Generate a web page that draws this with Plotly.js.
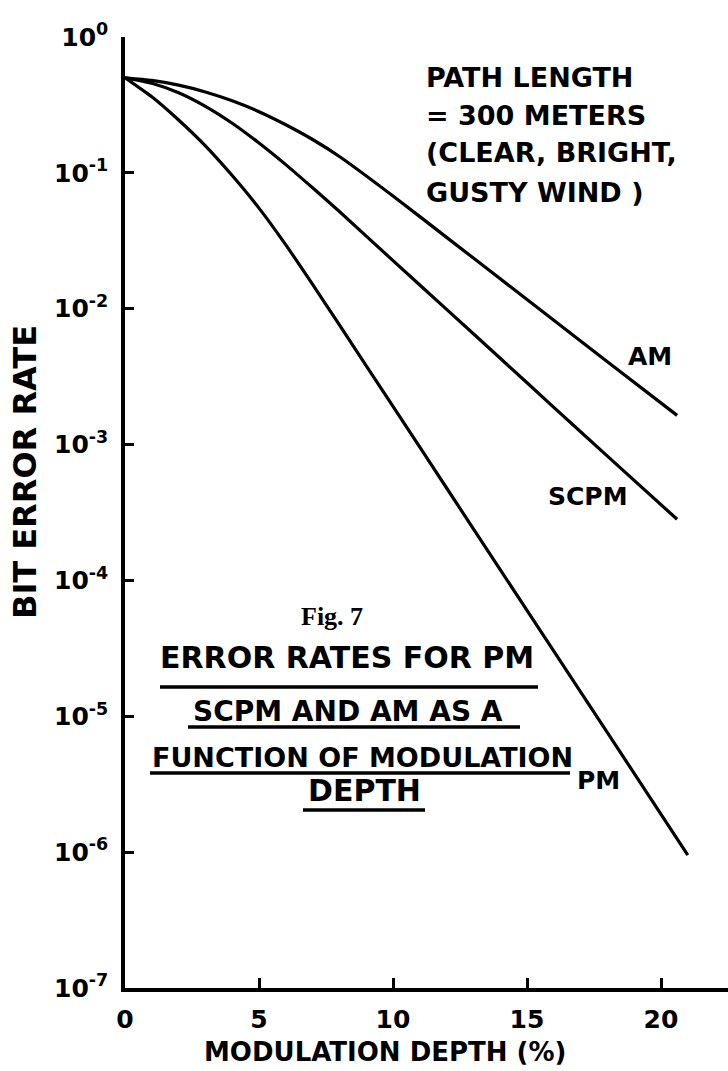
<!DOCTYPE html>
<html><head><meta charset="utf-8">
<script src="https://cdn.plot.ly/plotly-3.0.1.min.js"></script>
<style>html,body{margin:0;padding:0;background:#fff;} #chart{width:728px;height:1071px;}</style>
</head><body><div id="chart"></div>
<script>
// ---- data ----
const depthAM   = [0, 1, 2, 3, 4, 5, 6, 7, 8, 10, 12, 14, 16, 18, 20.6];
const berAM     = [0.501, 0.479, 0.442, 0.394, 0.339, 0.282, 0.226, 0.176, 0.132, 0.0676, 0.0335, 0.0166, 0.00822, 0.00407, 0.00164];
const depthSCPM = [0, 1, 2, 3, 4, 5, 6, 7, 8, 10, 12, 14, 16, 18, 20.6];
const berSCPM   = [0.501, 0.457, 0.389, 0.309, 0.232, 0.166, 0.115, 0.0776, 0.0519, 0.0226, 0.00989, 0.00432, 0.00188, 0.000822, 0.000282];
const depthPM   = [0, 1, 2, 3, 4, 5, 6, 7, 8, 10, 12, 14, 16, 18, 21];
const berPM     = [0.501, 0.363, 0.245, 0.158, 0.0955, 0.055, 0.0295, 0.0151, 0.00759, 0.00191, 0.000479, 0.00012, 3.02e-5, 7.59e-6, 9.5e-7];

const xTickVals = [0, 5, 10, 15, 20];
const xTickText = ['0', '5', '10', '15', '20'];
const yTickVals = [1e-7, 1e-6, 1e-5, 1e-4, 1e-3, 1e-2, 1e-1, 1];
const yTickText = ['10<sup>-7</sup>', '10<sup>-6</sup>', '10<sup>-5</sup>', '10<sup>-4</sup>', '10<sup>-3</sup>', '10<sup>-2</sup>', '10<sup>-1</sup>', '10<sup>0</sup>'];

const seriesNames = ['AM', 'SCPM', 'PM'];
const infoLines = ['PATH LENGTH', '= 300 METERS', '(CLEAR, BRIGHT,', 'GUSTY WIND )'];
const figLabel = 'Fig. 7';
const captionLines = ['ERROR RATES FOR PM', 'SCPM AND AM AS A', 'FUNCTION OF MODULATION', 'DEPTH'];
const xTitle = 'MODULATION DEPTH (%)';
const yTitle = 'BIT ERROR RATE';

// ---- layout geometry ----
const W = 728, H = 1071, ML = 125, MR = 0, MT = 37, MB = 83;
const PW = W - ML - MR, PH = H - MT - MB;
const px = p => (p - ML) / PW;
const py = p => (H - MB - p) / PH;

const FONT = 'DejaVu Sans';
const lineStyle = {color: '#000', width: 3.2, shape: 'spline', smoothing: 0.6};

const traces = [
  {x: depthAM, y: berAM, name: seriesNames[0], mode: 'lines', line: lineStyle, hoverinfo: 'skip'},
  {x: depthSCPM, y: berSCPM, name: seriesNames[1], mode: 'lines', line: lineStyle, hoverinfo: 'skip'},
  {x: depthPM, y: berPM, name: seriesNames[2], mode: 'lines', line: lineStyle, hoverinfo: 'skip'}
];

function ann(text, xp, yp, size, opts) {
  return Object.assign({
    text: text, xref: 'paper', yref: 'paper', x: px(xp), y: py(yp),
    showarrow: false, xanchor: 'center', yanchor: 'middle',
    font: {family: FONT, size: size, color: '#000', weight: 'bold'}
  }, opts || {});
}

const annotations = [
  ann(xTitle, 385, 1052, 26),
  ann(yTitle, 25, 472, 32, {textangle: -90}),
  ann(seriesNames[0], 650, 356, 25),
  ann(seriesNames[1], 588, 496, 25),
  ann(seriesNames[2], 598, 780, 25),
  ann(figLabel, 332, 616, 26, {font: {family: 'Liberation Serif', size: 26, color: '#000', weight: 'bold'}}),
];
const infoY = [78, 115, 152, 192];
infoLines.forEach((t, i) => annotations.push(ann(t, 424, infoY[i], 27, {xanchor: 'left'})));
const capX = [347, 348, 362, 364];
const capY = [658, 711, 757, 790];
const capSize = [30, 28, 27, 30];
captionLines.forEach((t, i) => annotations.push(ann(t, capX[i], capY[i], capSize[i])));

const ulines = [[160, 538, 687], [188, 520, 727], [150, 570, 773], [303, 425, 810]];
const shapes = ulines.map(u => ({
  type: 'line', xref: 'paper', yref: 'paper',
  x0: px(u[0]), x1: px(u[1]), y0: py(u[2]), y1: py(u[2]),
  line: {color: '#000', width: 3.5}
}));

const layout = {
  width: W, height: H,
  margin: {l: ML, r: MR, t: MT, b: MB, pad: 0},
  paper_bgcolor: '#fff', plot_bgcolor: '#fff',
  showlegend: false,
  xaxis: {
    range: [0, PW / 26.8], tickmode: 'array', tickvals: xTickVals, ticktext: xTickText,
    ticks: 'inside', ticklen: 10, tickwidth: 3, tickcolor: '#000',
    showline: true, linewidth: 3.5, linecolor: '#000', mirror: false,
    showgrid: false, zeroline: false, ticklabelstandoff: 6,
    tickfont: {family: FONT, size: 25, color: '#000', weight: 'bold'}
  },
  yaxis: {
    type: 'log', range: [-7, 0], tickmode: 'array', tickvals: yTickVals, ticktext: yTickText,
    ticks: 'inside', ticklen: 9, tickwidth: 3, tickcolor: '#000',
    showline: true, linewidth: 3.5, linecolor: '#000', mirror: false,
    showgrid: false, zeroline: false, ticklabelstandoff: 8,
    tickfont: {family: FONT, size: 25, color: '#000', weight: 'bold'}
  },
  annotations: annotations,
  shapes: shapes
};

Plotly.newPlot('chart', traces, layout, {displayModeBar: false});
</script>
</body></html>
